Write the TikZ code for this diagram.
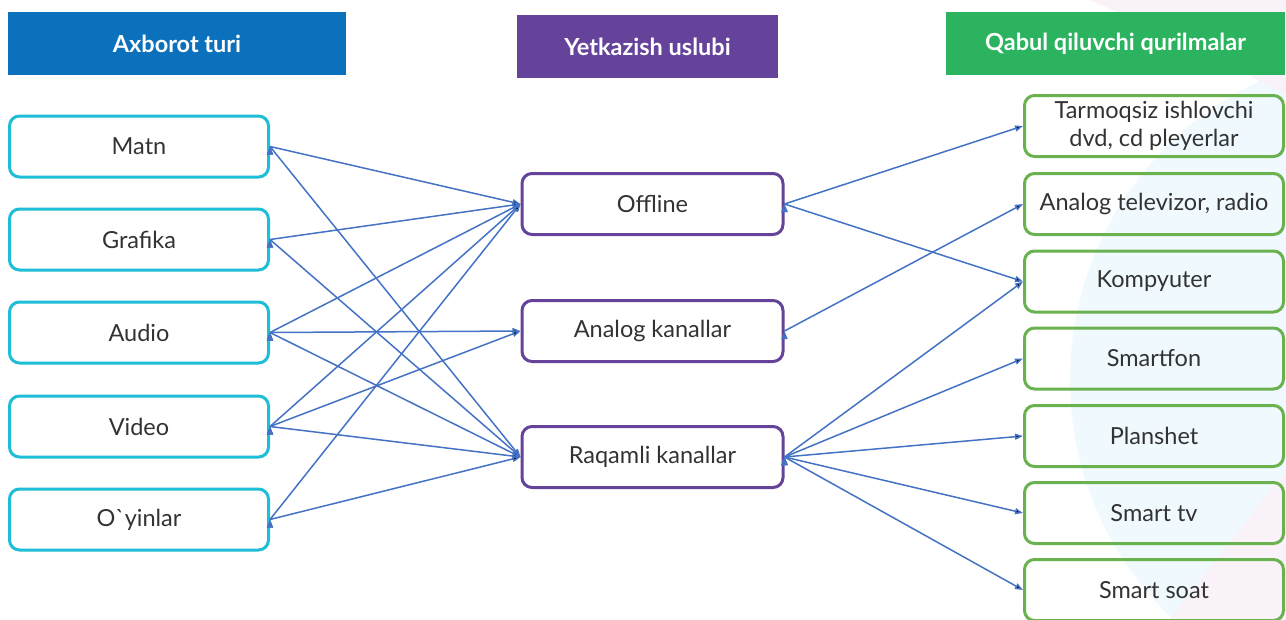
\documentclass[tikz,border=0pt]{standalone}
\usepackage{fontspec}
\setmainfont{Lato}
\usetikzlibrary{arrows.meta}
\definecolor{hdrblue}{HTML}{0C71BC}
\definecolor{hdrpurple}{HTML}{65439A}
\definecolor{hdrgreen}{HTML}{2BB35F}
\definecolor{boxcyan}{HTML}{1DBED6}
\definecolor{boxgreen}{HTML}{6AB150}
\definecolor{linkblue}{HTML}{4472C4}
\definecolor{txtgray}{HTML}{333333}
\begin{document}
\begin{tikzpicture}[x=1pt, y=-1pt,
  header/.style={shape=rectangle, minimum height=63pt, text=white, font=\fontsize{23.5}{26}\selectfont\bfseries},
  itembox/.style={shape=rectangle, rounded corners=10pt, line width=3pt, minimum width=259pt, minimum height=61pt, text=txtgray, align=center, font=\fontsize{23.5}{28}\selectfont},
  link/.style={-{Triangle[length=8pt, width=6pt]}, line width=1.5pt, draw=linkblue}]
\useasboundingbox (0,0) rectangle (1286,619);
% faint background
\fill[cyan!6] (1400,380) circle (330);
\fill[violet!5] (1090,0) -- (1286,0) -- (1286,95) -- (1180,40) -- cycle;
\fill[violet!5] (1286,470) -- (1286,619) -- (1170,619) -- cycle;
% headers
\node[header, fill=hdrblue, minimum width=338pt] (hType) at (177,43.5) {Axborot turi};
\node[header, fill=hdrpurple, minimum width=261pt] (hWay) at (647.5,46.5) {Yetkazish uslubi};
\node[header, fill=hdrgreen, minimum width=339pt] (hDev) at (1115.5,43.5) {Qabul qiluvchi qurilmalar};
% information types
\node[itembox, draw=boxcyan] (matn) at (139,146.5) {Matn};
\node[itembox, draw=boxcyan] (grafika) at (139,239.5) {Grafika};
\node[itembox, draw=boxcyan] (audio) at (139,332.5) {Audio};
\node[itembox, draw=boxcyan] (video) at (139,426.5) {Video};
\node[itembox, draw=boxcyan] (oyin) at (139,519.5) {O\textasciigrave yinlar};
% delivery
\node[itembox, draw=hdrpurple, minimum width=261pt] (offline) at (652.5,204) {Offline};
\node[itembox, draw=hdrpurple, minimum width=261pt] (analog) at (652.5,331) {Analog kanallar};
\node[itembox, draw=hdrpurple, minimum width=261pt] (raqam) at (652.5,457) {Raqamli kanallar};
% devices
\node[itembox, draw=boxgreen] (dvd) at (1154,126) {Tarmoqsiz ishlovchi\\dvd, cd pleyerlar};
\node[itembox, draw=boxgreen] (tv) at (1154,204) {Analog televizor, radio};
\node[itembox, draw=boxgreen] (pc) at (1154,281.5) {Kompyuter};
\node[itembox, draw=boxgreen] (phone) at (1154,358.5) {Smartfon};
\node[itembox, draw=boxgreen] (tab) at (1154,436) {Planshet};
\node[itembox, draw=boxgreen] (stv) at (1154,513) {Smart tv};
\node[itembox, draw=boxgreen] (watch) at (1154,590) {Smart soat};
% links
\path [link] (matn.east) edge (offline.west);
\path [link] (matn.east) edge (raqam.west);
\path [link] (grafika.east) edge (offline.west);
\path [link] (grafika.east) edge (raqam.west);
\path [link] (audio.east) edge (offline.west);
\path [link] (audio.east) edge (analog.west);
\path [link] (audio.east) edge (raqam.west);
\path [link] (video.east) edge (offline.west);
\path [link] (video.east) edge (analog.west);
\path [link] (video.east) edge (raqam.west);
\path [link] (oyin.east) edge (offline.west);
\path [link] (oyin.east) edge (raqam.west);
\path [link] (offline.east) edge (dvd.west);
\path [link] (offline.east) edge (pc.west);
\path [link] (analog.east) edge (tv.west);
\path [link] (raqam.east) edge (pc.west);
\path [link] (raqam.east) edge (phone.west);
\path [link] (raqam.east) edge (tab.west);
\path [link] (raqam.east) edge (stv.west);
\path [link] (raqam.east) edge (watch.west);
\end{tikzpicture}
\end{document}
